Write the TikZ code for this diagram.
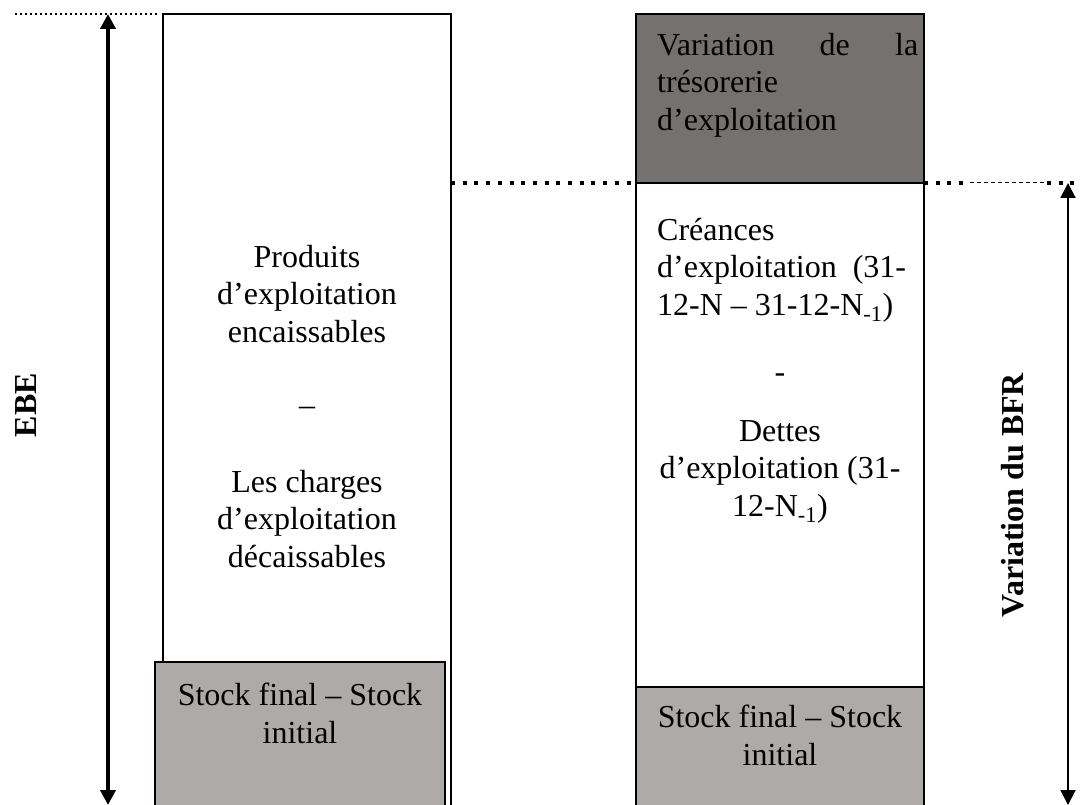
\documentclass[tikz,border=0pt]{standalone}
\usepackage{fontspec}
\setmainfont{Liberation Serif}
\usepackage{tikz}
\usetikzlibrary{arrows.meta,positioning}
\definecolor{grisfonce}{HTML}{767171}
\definecolor{grisclair}{HTML}{AEAAAA}

\tikzset{
  cadre/.style={draw=black, line width=1.5pt, anchor=north west, inner sep=0pt, outer sep=0pt},
  etiquette/.style={rotate=90, font={\fontsize{32}{37.5}\selectfont\bfseries}},
  fleche/.style={{Triangle[width=15pt,length=15pt]}-{Triangle[width=15pt,length=15pt]}},
  pointfin/.style={line width=1.5pt, dash pattern=on 1.5pt off 3.5pt},
  pointgros/.style={line width=4pt, dash pattern=on 4pt off 7.7pt},
  tiretfin/.style={line width=1pt, dash pattern=on 4pt off 3pt}
}

\begin{document}
\begin{tikzpicture}[x=1pt, y=-1pt, font=\fontsize{32}{37.5}\selectfont, inner sep=0pt]
   \clip (0,0) rectangle (1081,805);
   % cadres
   \begin{scope}[every node/.style={cadre}]
    \node[minimum width=288pt, minimum height=800pt] (ebe) at (163,14) {};
    \node[fill=grisclair, minimum width=290pt, minimum height=150pt] (stockebe) at (155,662) {};
    \node[fill=grisfonce, minimum width=288pt, minimum height=169pt] (vartreso) at (636,14) {};
    \node[minimum width=288pt, minimum height=630pt] (bfr) at (636,183) {};
    \node[fill=grisclair, minimum width=288pt, minimum height=125pt] (stockbfr) at (636,687) {};
   \end{scope}
   % textes
   \begin{scope}[every node/.style={align=center}]
    \node[anchor=north] (produits) at (307,245) {Produits\\d’exploitation\\encaissables};
    \node[anchor=base] (tiret) at (307,415) {–};
    \node[anchor=north] (charges) at (307,470) {Les charges\\d’exploitation\\décaissables};
    \node[anchor=north] (stockg) at (300,683) {Stock final – Stock\\initial};
    \node[anchor=north west, align=left] (treso) at (657,33) {\makebox[261pt][s]{Variation de la}\\trésorerie\\d’exploitation};
    \node[anchor=north west, align=left] (creances) at (657,218) {Créances\\d’exploitation\ \ (31-\\12-N – 31-12-N\textsubscript{-1})};
    \node[anchor=base] (moins) at (780,382) {-};
    \node[anchor=north] (dettes) at (780,420) {Dettes\\d’exploitation (31-\\12-N\textsubscript{-1})};
    \node[anchor=north] (stockd) at (780,705) {Stock final – Stock\\initial};
   \end{scope}
   \node[etiquette] (lebe) at (26,405) {EBE};
   \node[etiquette] (lbfr) at (1013,495) {Variation du BFR};
   % fleches
   \coordinate (ebehaut) at (108,14);
   \coordinate (ebebas) at (108,805);
   \coordinate (bfrhaut) at (1068,183);
   \coordinate (bfrbas) at (1068,805);
   \draw[fleche, line width=4pt] (ebehaut) -- (ebebas);
   \draw[fleche, line width=2pt] (bfrhaut) -- (bfrbas);
   % pointilles
   \coordinate (p1) at (15,14);
   \coordinate (p2) at (160,14);
   \coordinate (p3) at (970,183);
   \coordinate (p4) at (1047,183);
   \coordinate (p5) at (1081,183);
   \draw[pointfin] (p1) -- (p2);
   \draw[pointgros] (ebe.east |- vartreso.south west) -- (vartreso.south west);
   \draw[pointgros] (vartreso.south east) -- (p3);
   \draw[tiretfin] (p3) -- (p4);
   \draw[pointgros] (p4) -- (p5);
\end{tikzpicture}
\end{document}
